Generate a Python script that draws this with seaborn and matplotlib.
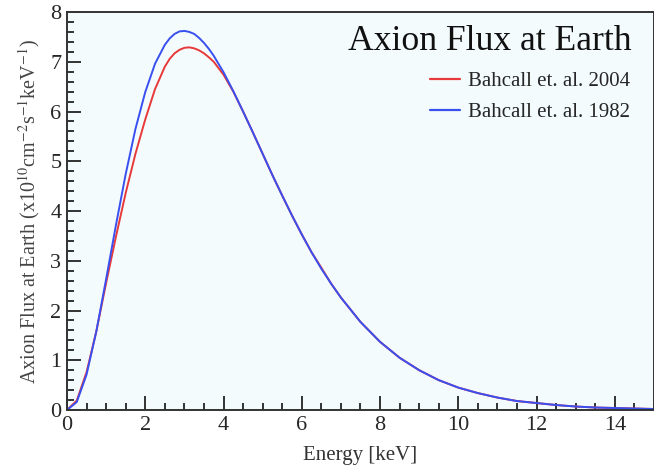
import numpy as np
import pandas as pd
import matplotlib
matplotlib.use("Agg")
import matplotlib.pyplot as plt
import seaborn as sns
from matplotlib.ticker import MultipleLocator

# values (flux in 1e10 cm^-2 s^-1 keV^-1)
energy = [0, 0.25, 0.5, 0.75, 1.0, 1.25, 1.5, 1.75, 2.0, 2.25, 2.5, 2.625, 2.75,
          2.875, 3.0, 3.125, 3.25, 3.375, 3.5, 3.625, 3.75, 4.0, 4.25, 4.5, 4.75,
          5.0, 5.25, 5.5, 5.75, 6.0, 6.25, 6.5, 6.75, 7.0, 7.5, 8.0, 8.5, 9.0,
          9.5, 10.0, 10.5, 11.0, 11.5, 12.0, 12.5, 13.0, 13.5, 14.0, 14.5, 15.0]
flux_1982 = [0, 0.16, 0.71, 1.58, 2.63, 3.71, 4.74, 5.65, 6.39, 6.96, 7.34, 7.47, 7.56,
             7.61, 7.62, 7.60, 7.56, 7.48, 7.38, 7.26, 7.12, 6.79, 6.41, 6.00, 5.58,
             5.15, 4.72, 4.31, 3.91, 3.53, 3.17, 2.84, 2.54, 2.26, 1.77, 1.37, 1.05, 0.80,
             0.60, 0.45, 0.34, 0.25, 0.18, 0.14, 0.10, 0.07, 0.05, 0.04, 0.03, 0.02]
flux_2004 = [0, 0.19, 0.76, 1.58, 2.55, 3.48, 4.36, 5.15, 5.84, 6.45, 6.90, 7.06, 7.17,
             7.24, 7.28, 7.29, 7.27, 7.23, 7.17, 7.09, 7.00, 6.74, 6.40, 6.00, 5.58,
             5.15, 4.72, 4.31, 3.91, 3.53, 3.17, 2.86, 2.54, 2.26, 1.77, 1.37, 1.05, 0.80,
             0.60, 0.45, 0.34, 0.25, 0.18, 0.14, 0.10, 0.07, 0.05, 0.04, 0.03, 0.02]
labels = ["Bahcall et. al. 2004", "Bahcall et. al. 1982"]
colors = ["#e8393a", "#3a4ff0"]

df = pd.concat([
    pd.DataFrame({"energy": energy, "flux": flux_2004, "model": labels[0]}),
    pd.DataFrame({"energy": energy, "flux": flux_1982, "model": labels[1]}),
])

sns.set_style("ticks")
plt.rcParams['font.family'] = ['Liberation Serif', 'DejaVu Serif']
plt.rcParams['mathtext.fontset'] = 'stix'

fig = plt.figure(figsize=(6.54, 4.71), dpi=100)
ax = fig.add_axes([0.1024, 0.1295, 0.8976, 0.8450])
ax.set_facecolor("#f3fbfc")

sns.lineplot(data=df, x="energy", y="flux", hue="model", palette=colors,
             hue_order=labels, linewidth=1.4, ax=ax)

ax.set_xlim(0, 15)
ax.set_ylim(0, 8)
ax.xaxis.set_major_locator(MultipleLocator(2))
ax.xaxis.set_minor_locator(MultipleLocator(0.5))
ax.yaxis.set_major_locator(MultipleLocator(1))
ax.yaxis.set_minor_locator(MultipleLocator(0.2))
ax.tick_params(which="both", direction="in", width=1.3, color="#222222",
               labelsize=16, top=False, right=False, pad=4)
ax.tick_params(which="major", length=10)
ax.tick_params(which="minor", length=5)
for s in ax.spines.values():
    s.set_linewidth(1.4)
    s.set_color("#333333")

ax.set_xlabel("Energy [keV]", fontsize=15, color="#333333", labelpad=8)
ax.set_ylabel(r"Axion Flux at Earth (x10$^{10}$cm$^{-2}$s$^{-1}$keV$^{-1}$)",
              fontsize=14.5, color="#444444", labelpad=6)

ax.text(0.962, 0.925, "Axion Flux at Earth", transform=ax.transAxes,
        ha="right", va="center", fontsize=25.7, color="#111111")

leg = ax.legend(loc="upper right", bbox_to_anchor=(0.992, 0.898), frameon=False,
                fontsize=15, handlelength=1.45, labelspacing=0.55, handletextpad=0.4)
for line in leg.get_lines():
    line.set_linewidth(1.6)

fig.savefig("out.png", dpi=100)
